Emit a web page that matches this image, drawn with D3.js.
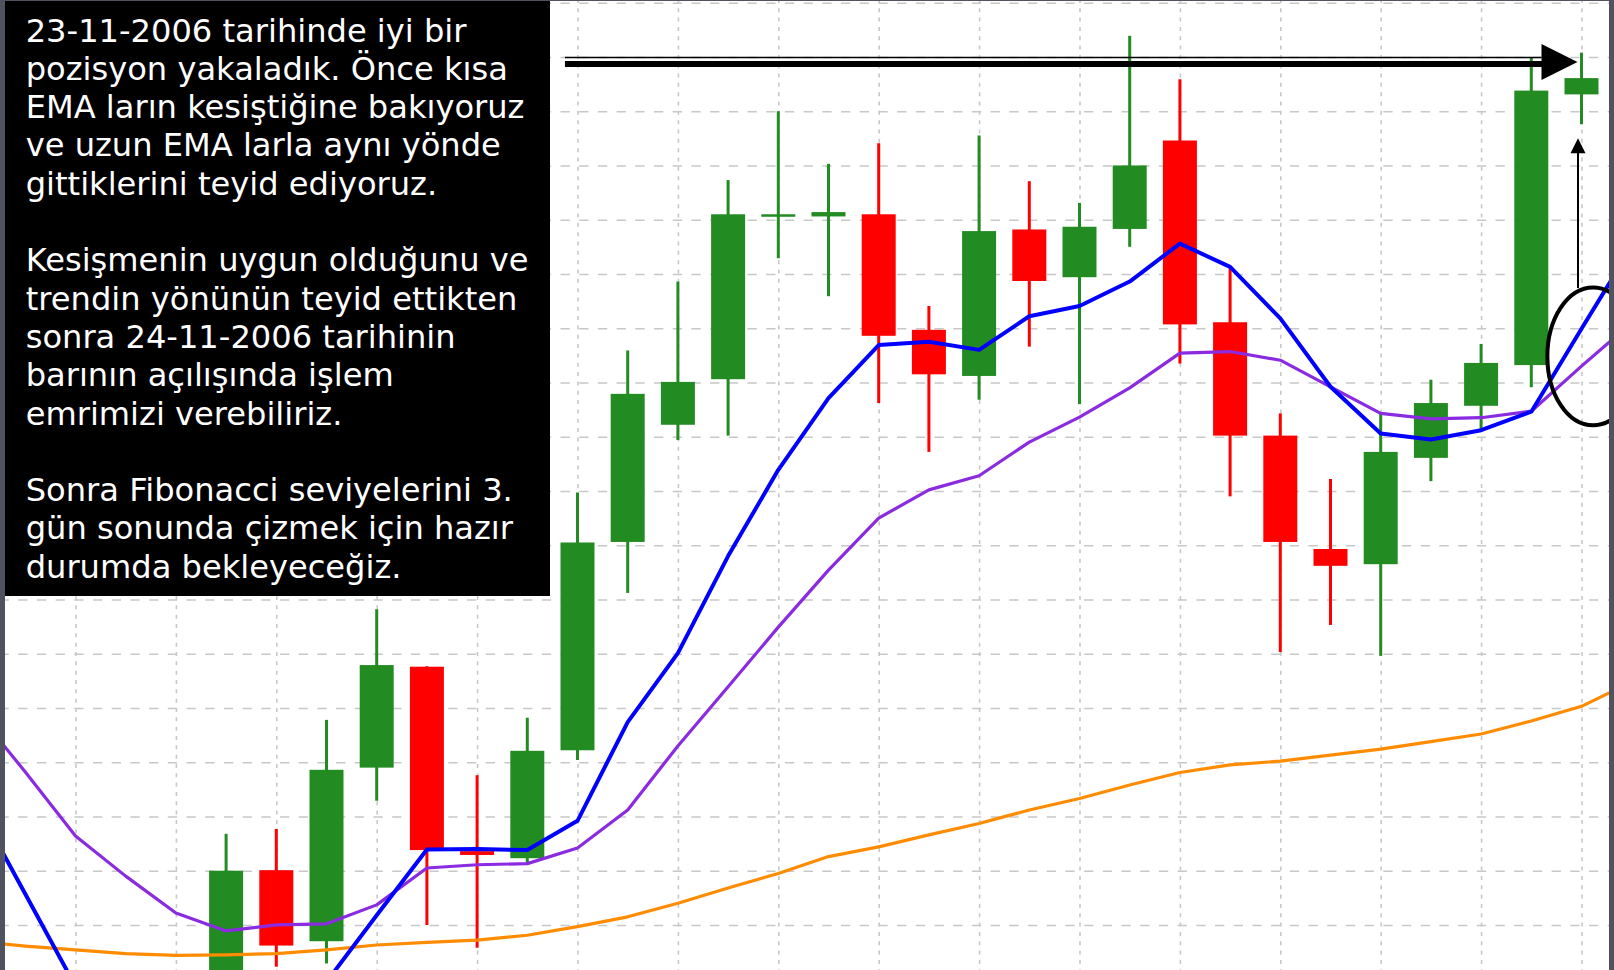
<!DOCTYPE html>
<html><head><meta charset="utf-8">
<script src="https://cdn.jsdelivr.net/npm/d3@7"></script>
<style>html,body{margin:0;padding:0;background:#505260;overflow:hidden}svg{display:block}</style>
</head><body>
<svg id="chart" width="1614" height="970"></svg>
<script>
// ---------- DATA ----------
// bar index (position on the time axis) of each visible candle
const candleIndex = [3,4,5,6,7,8,9,10,11,12,13,14,15,16,17,18,19,20,21,22,23,24,25,26,27,28,29,30];
const openP  = [1.29289,1.29501,1.29370,1.29690,1.29876,1.29536,1.29523,1.29722,1.30106,1.30322,1.30406,1.30706,1.30706,1.30710,1.30497,1.30412,1.30682,1.30594,1.30683,1.30846,1.30511,1.30302,1.30093,1.30065,1.30261,1.30357,1.30432,1.30931];
const highP  = [1.29568,1.29577,1.29778,1.29982,1.29877,1.29676,1.29782,1.30197,1.30459,1.30586,1.30773,1.30900,1.30803,1.30841,1.30541,1.30855,1.30771,1.30731,1.31039,1.30959,1.30613,1.30343,1.30222,1.30343,1.30405,1.30471,1.30999,1.31008];
const lowP   = [1.29262,1.29323,1.29329,1.29629,1.29400,1.29358,1.29514,1.29704,1.30012,1.30294,1.30302,1.30629,1.30559,1.30362,1.30272,1.30368,1.30466,1.30360,1.30650,1.30435,1.30190,1.29903,1.29953,1.29896,1.30218,1.30314,1.30391,1.30876];
const closeP = [1.29500,1.29362,1.29686,1.29879,1.29538,1.29529,1.29721,1.30105,1.30379,1.30401,1.30710,1.30710,1.30714,1.30486,1.30415,1.30679,1.30587,1.30687,1.30800,1.30507,1.30302,1.30106,1.30062,1.30272,1.30362,1.30436,1.30938,1.30961];

// moving averages, one value per bar index
const maIndex = [-2,-1,0,1,2,3,4,5,6,7,8,9,10,11,12,13,14,15,16,17,18,19,20,21,22,23,24,25,26,27,28,29,30,31];
const emaFast = [1.29627,1.29457,1.29287,1.29188,1.29123,1.29133,1.29197,1.29295,1.29418,1.29539,1.29540,1.29538,1.29592,1.29774,1.29901,1.30080,1.30239,1.30371,1.30469,1.30475,1.30460,1.30522,1.30541,1.30586,1.30656,1.30613,1.30518,1.30392,1.30306,1.30295,1.30312,1.30346,1.30499,1.30650];
const emaMid  = [1.29796,1.29682,1.29564,1.29490,1.29422,1.29389,1.29400,1.29402,1.29437,1.29505,1.29511,1.29513,1.29542,1.29612,1.29730,1.29839,1.29949,1.30054,1.30150,1.30202,1.30228,1.30290,1.30336,1.30390,1.30454,1.30457,1.30441,1.30392,1.30343,1.30333,1.30335,1.30347,1.30430,1.30510];
const emaSlow = [1.29370,1.29361,1.29354,1.29347,1.29344,1.29345,1.29347,1.29354,1.29363,1.29368,1.29372,1.29381,1.29397,1.29415,1.29440,1.29468,1.29495,1.29526,1.29544,1.29566,1.29587,1.29612,1.29633,1.29658,1.29681,1.29695,1.29702,1.29713,1.29724,1.29738,1.29752,1.29776,1.29803,1.29848];

// grid levels
const gridPrices = [1.3110,1.3100,1.3090,1.3080,1.3070,1.3060,1.3050,1.3040,1.3030,1.3020,1.3010,1.3000,1.2990,1.2980,1.2970,1.2960,1.2950,1.2940];
const gridBars = [0,2,4,6,8,10,12,14,16,18,20,22,24,26,28,30];

// annotations (in data coordinates)
const targetLevel = 1.30999;           // thin line at the high
const arrowLevel = 1.30987;            // thick arrow
const arrowFrom = 9.75, arrowTo = 29.92;
const upArrowBar = 29.93, upArrowFrom = 1.30574, upArrowTo = 1.30850;
const circleBar = 30.23, circlePrice = 1.30448, circleBars = 0.91, circlePrices = 0.00127;

const textLines = [
  "23-11-2006 tarihinde iyi bir",
  "pozisyon yakaladık. Önce kısa",
  "EMA ların kesiştiğine bakıyoruz",
  "ve uzun EMA larla aynı yönde",
  "gittiklerini teyid ediyoruz.",
  "",
  "Kesişmenin uygun olduğunu ve",
  "trendin yönünün teyid ettikten",
  "sonra 24-11-2006 tarihinin",
  "barının açılışında işlem",
  "emrimizi verebiliriz.",
  "",
  "Sonra Fibonacci seviyelerini 3.",
  "gün sonunda çizmek için hazır",
  "durumda bekleyeceğiz."
];

// ---------- DRAWING ----------
const svg = d3.select('#chart');
const W = 1614, H = 970;
const P = {left:5, right:1609, top:1, bottom:970};

const x = d3.scaleLinear().domain([0,30]).range([75.5,1581.5]);
const y = d3.scaleLinear().domain([1.3110,1.2940]).range([2.7,924.95]);

svg.append('rect').attr('width',W).attr('height',H).attr('fill','#505260');
svg.append('rect').attr('x',P.left).attr('y',P.top).attr('width',P.right-P.left).attr('height',P.bottom-P.top).attr('fill','#ffffff');

svg.append('defs').append('clipPath').attr('id','plotclip')
  .append('rect').attr('x',P.left).attr('y',P.top).attr('width',P.right-P.left).attr('height',P.bottom-P.top);

const g = svg.append('g').attr('clip-path','url(#plotclip)');

// horizontal grid (dashed) via axis
const hGrid = g.append('g').attr('transform',`translate(${P.left},0)`)
  .call(d3.axisRight(y).tickValues(gridPrices).tickSize(P.right-P.left).tickFormat(''));
hGrid.select('.domain').remove();
hGrid.selectAll('line').attr('stroke','#c8c8c8').attr('stroke-width',1.4)
  .attr('stroke-dasharray','9.3,9.4').attr('stroke-dashoffset',5.5);

// vertical grid (dotted) via axis
const vGrid = g.append('g').attr('transform',`translate(0,${P.top})`)
  .call(d3.axisBottom(x).tickValues(gridBars).tickSize(P.bottom-P.top).tickFormat(''));
vGrid.select('.domain').remove();
vGrid.selectAll('line').attr('stroke','#c8c8c8').attr('stroke-width',1.6)
  .attr('stroke-dasharray','4,5.33').attr('stroke-dashoffset',2.1);

// candles
const candles = candleIndex.map((b,i)=>({b, o:openP[i], h:highP[i], l:lowP[i], c:closeP[i]}));
const bodyW = 0.677*(x(1)-x(0));
const up = '#228b22', down = '#ff0000';
const cg = g.append('g');
cg.selectAll('line.wick').data(candles).join('line').attr('class','wick')
  .attr('x1',d=>x(d.b)).attr('x2',d=>x(d.b))
  .attr('y1',d=>y(d.h)).attr('y2',d=>y(d.l))
  .attr('stroke',d=>d.c>=d.o?up:down).attr('stroke-width',3);
cg.selectAll('rect.body').data(candles).join('rect').attr('class','body')
  .attr('x',d=>x(d.b)-bodyW/2).attr('width',bodyW)
  .attr('y',d=>Math.min(y(d.o),y(d.c)))
  .attr('height',d=>Math.max(2.5,Math.abs(y(d.o)-y(d.c))))
  .attr('fill',d=>d.c>=d.o?up:down);

// moving averages
const line = d3.line().x(d=>x(d[0])).y(d=>y(d[1]));
const series = [
  {v:emaSlow, color:'#ff8c00', w:3.2},
  {v:emaMid,  color:'#8a2be2', w:3.2},
  {v:emaFast, color:'#0000ff', w:4}
];
series.forEach(s=>{
  g.append('path').datum(maIndex.map((b,i)=>[b,s.v[i]]))
    .attr('d',line).attr('fill','none').attr('stroke',s.color)
    .attr('stroke-width',s.w).attr('stroke-linejoin','round');
});

// annotations
const ag = g.append('g');
ag.append('line').attr('x1',x(arrowFrom)).attr('x2',x(arrowTo)-36)
  .attr('y1',y(targetLevel)).attr('y2',y(targetLevel))
  .attr('stroke','#000').attr('stroke-width',1.6);
ag.append('line').attr('x1',x(arrowFrom)).attr('x2',x(arrowTo)-30)
  .attr('y1',y(arrowLevel)).attr('y2',y(arrowLevel))
  .attr('stroke','#000').attr('stroke-width',6);
{
  const tx = x(arrowTo), ty = y(arrowLevel)-2;
  ag.append('path').attr('d',`M${tx},${ty} L${tx-36},${ty-18} L${tx-36},${ty+18} Z`).attr('fill','#000');
}
{
  const ux = x(upArrowBar), y0 = y(upArrowFrom), y1 = y(upArrowTo);
  ag.append('line').attr('x1',ux).attr('x2',ux).attr('y1',y0).attr('y2',y1+14)
    .attr('stroke','#000').attr('stroke-width',2);
  ag.append('path').attr('d',`M${ux},${y1} L${ux-7.5},${y1+15} L${ux+7.5},${y1+15} Z`).attr('fill','#000');
}
ag.append('ellipse').attr('cx',x(circleBar)).attr('cy',y(circlePrice))
  .attr('rx',x(circleBars)-x(0)).attr('ry',y(1.3000-circlePrices)-y(1.3000))
  .attr('fill','none').attr('stroke','#000').attr('stroke-width',4);

// text box
svg.append('rect').attr('x',5).attr('y',1).attr('width',545).attr('height',595).attr('fill','#000');
const tg = svg.append('g');
const txt = tg.selectAll('text').data(textLines).join('text')
  .attr('x',25.7).attr('y',(d,i)=>41.5+i*38.3)
  .attr('fill','#fff').attr('font-family','"DejaVu Sans", Verdana, sans-serif')
  .attr('font-size',100).text(d=>d);
// fit font so that the reference line has the width seen in the picture
const ref = txt.filter(d=>d==="Kesişmenin uygun olduğunu ve").node();
const w100 = ref.getComputedTextLength();
txt.attr('font-size', 100*503/w100);
</script>
</body></html>
